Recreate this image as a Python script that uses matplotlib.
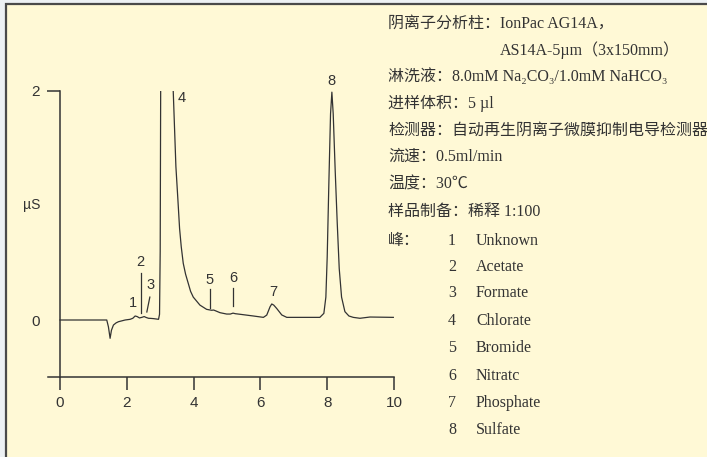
import matplotlib
matplotlib.use("Agg")
import matplotlib.pyplot as plt
from matplotlib.patches import Rectangle

# chromatogram: retention time (min) and conductivity (uS)
time_min = [0.0, 1.40, 1.45, 1.50, 1.54, 1.60, 1.68, 1.75, 1.95, 2.10, 2.18, 2.25,
            2.31, 2.38, 2.45, 2.52, 2.58, 2.65, 2.72, 2.80, 2.95, 2.98, 3.00, 3.02,
            3.20, 3.37, 3.39, 3.47, 3.53, 3.58, 3.63, 3.69, 3.76, 3.84, 3.91, 3.99,
            4.19, 4.39, 4.54, 4.60, 4.66, 4.79, 4.99, 5.10, 5.18, 5.25, 5.39, 5.79,
            6.09, 6.19, 6.29, 6.34, 6.40, 6.49, 6.64, 6.79, 7.78, 7.90, 7.96, 8.00,
            8.05, 8.10, 8.14, 8.18, 8.24, 8.30, 8.36, 8.43, 8.53, 8.65, 8.78, 8.98,
            9.28, 9.98]
signal_us = [0.0, 0.0, -0.06, -0.16, -0.09, -0.044, -0.025, -0.015, 0.0, 0.006, 0.015, 0.035,
             0.03, 0.018, 0.023, 0.03, 0.022, 0.015, 0.014, 0.012, 0.006, 0.05, 0.6, 2.6,
             3.4, 2.4, 2.0, 1.34, 1.05, 0.80, 0.64, 0.495, 0.40, 0.32, 0.25, 0.20,
             0.13, 0.093, 0.085, 0.087, 0.08, 0.064, 0.052, 0.052, 0.06, 0.055, 0.05, 0.035,
             0.023, 0.043, 0.116, 0.14, 0.13, 0.10, 0.044, 0.023, 0.023, 0.058, 0.20, 0.55,
             1.20, 1.80, 1.99, 1.80, 1.30, 0.85, 0.45, 0.20, 0.073, 0.035, 0.023, 0.015,
             0.026, 0.023]

# peak numbers and where they are written
peak_ids = ["1", "2", "3", "4", "5", "6", "7", "8"]
label_t = [2.19, 2.40, 2.72, 3.65, 4.49, 5.18, 6.38, 8.14]
label_s = [0.15, 0.51, 0.31, 1.94, 0.35, 0.37, 0.245, 2.09]
# small marker strokes under labels 2, 3, 5, 6
mark_t0 = [2.42, 2.69, 4.49, 5.19]
mark_s0 = [0.41, 0.20, 0.27, 0.28]
mark_t1 = [2.42, 2.60, 4.49, 5.19]
mark_s1 = [0.06, 0.07, 0.105, 0.12]

x_ticks = [0, 2, 4, 6, 8, 10]

info_lines = ["阴离子分析柱：IonPac AG14A，",
              "AS14A-5µm（3x150mm）",
              "淋洗液：8.0mM Na₂CO₃/1.0mM NaHCO₃",
              "进样体积：5 µl",
              "检测器：自动再生阴离子微膜抑制电导检测器",
              "流速：0.5ml/min",
              "温度：30℃",
              "样品制备：稀释 1:100"]
info_x = [388, 500, 388, 388, 388, 388, 388, 388]
info_y = [24, 50, 77, 103, 131, 157, 184, 212]

peak_names = ["Unknown", "Acetate", "Formate", "Chlorate",
              "Bromide", "Nitratc", "Phosphate", "Sulfate"]
peak_rows_y = [241, 267, 293, 321, 348, 376, 403, 430]

W, H = 707, 457
ink = "#333333"
bg = "#FFF9D6"

fig = plt.figure(figsize=(W / 100, H / 100), dpi=100)
fig.patch.set_facecolor("#edf1f4")
fig.add_artist(Rectangle((6 / W, -0.05), 1.1, (H - 4) / H + 0.05, transform=fig.transFigure,
                         facecolor=bg, edgecolor="#4a4a4a", lw=1.6, zorder=-1))

# data->pixel: x px = 60 + 33.4*t, y px = 320 - 114.5*s
left_px, right_px, top_px, bot_px = 40, 400, 91, 400
ax = fig.add_axes([left_px / W, 1 - bot_px / H, (right_px - left_px) / W, (bot_px - top_px) / H])
ax.patch.set_visible(False)
ax.set_xlim((left_px - 60) / 33.4, (right_px - 60) / 33.4)
ax.set_ylim((320 - bot_px) / 114.5, 2.0)

ax.plot(time_min, signal_us, color=ink, lw=0.9, solid_joinstyle="round")

for t0, s0, t1, s1 in zip(mark_t0, mark_s0, mark_t1, mark_s1):
    ax.plot([t0, t1], [s0, s1], color=ink, lw=0.9)

lab_font = dict(family="Liberation Sans", size=10.5, color=ink)
for pid, t, s in zip(peak_ids, label_t, label_s):
    ax.text(t, s, pid, ha="center", va="center", clip_on=False, **lab_font)

for side in ["top", "right"]:
    ax.spines[side].set_visible(False)
ax.spines["left"].set_position(("data", 0))
ax.spines["left"].set_bounds(-0.5, 2.0)
ax.spines["bottom"].set_position(("data", -0.5))
ax.spines["bottom"].set_bounds(-0.36, 10)
for side in ["left", "bottom"]:
    ax.spines[side].set_color(ink)
    ax.spines[side].set_linewidth(1.1)

ax.set_xticks(x_ticks)
ax.set_xticklabels([str(v) for v in x_ticks])
ax.set_yticks([0, 2])
ax.set_yticklabels(["0", "2"])
ax.tick_params(axis="both", direction="out", length=9.5, width=1.1, color=ink,
               labelcolor=ink, labelsize=11, pad=4)
ax.tick_params(axis="y", pad=5)
for lab in ax.get_xticklabels() + ax.get_yticklabels():
    lab.set_family("Liberation Sans")
ax.yaxis.get_major_ticks()[0].tick1line.set_visible(False)

fig.text(32 / W, 1 - 205 / H, "µS", ha="center", va="center",
         family="Liberation Sans", size=10, color=ink)

txt_font = dict(family=["Liberation Serif", "Noto Sans CJK SC", "DejaVu Serif"],
                size=11.5, color=ink)
for line, x, y in zip(info_lines, info_x, info_y):
    fig.text(x / W, 1 - y / H, line, ha="left", va="center", **txt_font)

fig.text(388 / W, 1 - peak_rows_y[0] / H, "峰：", ha="left", va="center", **txt_font)
for i, (name, y) in enumerate(zip(peak_names, peak_rows_y)):
    fig.text(452 / W, 1 - y / H, str(i + 1), ha="center", va="center", **txt_font)
    fig.text(476 / W, 1 - y / H, name, ha="left", va="center", **txt_font)

fig.savefig("out.png", dpi=100, facecolor=fig.get_facecolor())
